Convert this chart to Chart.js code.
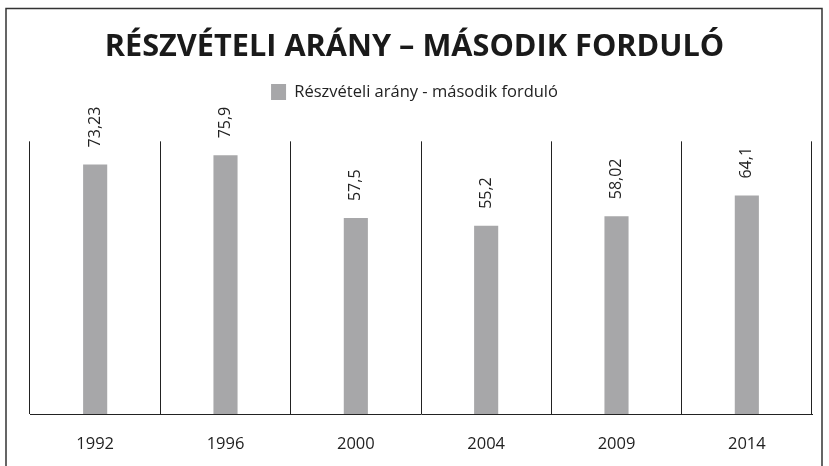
<!DOCTYPE html>
<html>
<head>
<meta charset="utf-8">
<script src="https://cdn.jsdelivr.net/npm/chart.js@4/dist/chart.umd.min.js"></script>
<style>
html,body{margin:0;padding:0;background:#fff;}
#wrap{position:relative;width:829px;height:466px;}
</style>
</head>
<body>
<div id="wrap"><canvas id="c" width="829" height="466"></canvas></div>
<script>
const categories = ['1992', '1996', '2000', '2004', '2009', '2014'];
const turnout = [73.23, 75.9, 57.5, 55.2, 58.02, 64.1];
const valueLabels = ['73,23', '75,9', '57,5', '55,2', '58,02', '64,1'];
const seriesName = 'Részvételi arány - második forduló';
const chartTitle = 'RÉSZVÉTELI ARÁNY – MÁSODIK FORDULÓ';

const FONT = "'Open Sans', 'DejaVu Sans', sans-serif";

const framePlugin = {
  id: 'frame',
  beforeDraw(chart) {
    const ctx = chart.ctx;
    ctx.save();
    ctx.strokeStyle = '#333';
    ctx.lineWidth = 1.5;
    ctx.beginPath();
    ctx.moveTo(6, 480);
    ctx.lineTo(6, 8.5);
    ctx.lineTo(822, 8.5);
    ctx.lineTo(822, 480);
    ctx.stroke();
    ctx.restore();
  }
};

const legendSpacer = {
  id: 'legendSpacer',
  afterInit(chart) {
    const lg = chart.legend;
    if (lg && !lg._patched) {
      const orig = lg.fit.bind(lg);
      lg.fit = function () { orig(); this.height += 31; };
      lg._patched = true;
    }
  }
};

const valueLabelPlugin = {
  id: 'valueLabels',
  afterDatasetsDraw(chart) {
    const ctx = chart.ctx;
    const meta = chart.getDatasetMeta(0);
    ctx.save();
    ctx.font = '16px ' + FONT;
    ctx.fillStyle = '#222';
    ctx.textAlign = 'left';
    ctx.textBaseline = 'middle';
    meta.data.forEach((bar, i) => {
      ctx.save();
      ctx.translate(bar.x, bar.y - 17);
      ctx.rotate(-Math.PI / 2);
      ctx.fillText(valueLabels[i], 0, 0);
      ctx.restore();
    });
    ctx.restore();
  }
};

new Chart(document.getElementById('c'), {
  type: 'bar',
  data: {
    labels: categories,
    datasets: [{
      label: seriesName,
      data: turnout,
      backgroundColor: '#a7a7a9',
      borderWidth: 0,
      barPercentage: 0.37,
      categoryPercentage: 0.5
    }]
  },
  options: {
    responsive: false,
    maintainAspectRatio: false,
    animation: false,
    layout: { padding: { left: 17, right: 17, top: 0, bottom: 0 } },
    plugins: {
      title: {
        display: true,
        text: chartTitle,
        color: '#1a1a1a',
        font: { family: FONT, size: 30.7, weight: 'bold' },
        padding: { top: 29, bottom: 8 }
      },
      legend: {
        display: true,
        position: 'top',
        labels: {
          color: '#222',
          font: { family: FONT, size: 16.5 },
          boxWidth: 15,
          boxHeight: 16,
          padding: 10
        }
      },
      tooltip: { enabled: false }
    },
    scales: {
      x: {
        grid: {
          offset: true,
          color: '#222',
          lineWidth: 1,
          drawTicks: false
        },
        border: { color: '#222', width: 1 },
        ticks: {
          color: '#222',
          font: { family: FONT, size: 16.5 },
          padding: 20
        },
        afterFit(scale) { scale.height = 52; }
      },
      y: {
        display: true,
        min: 0,
        max: 80,
        grid: { display: false, drawTicks: false },
        border: { display: false },
        ticks: { display: false },
        afterFit(scale) { scale.width = 13; }
      }
    }
  },
  plugins: [framePlugin, legendSpacer, valueLabelPlugin]
});
</script>
</body>
</html>
